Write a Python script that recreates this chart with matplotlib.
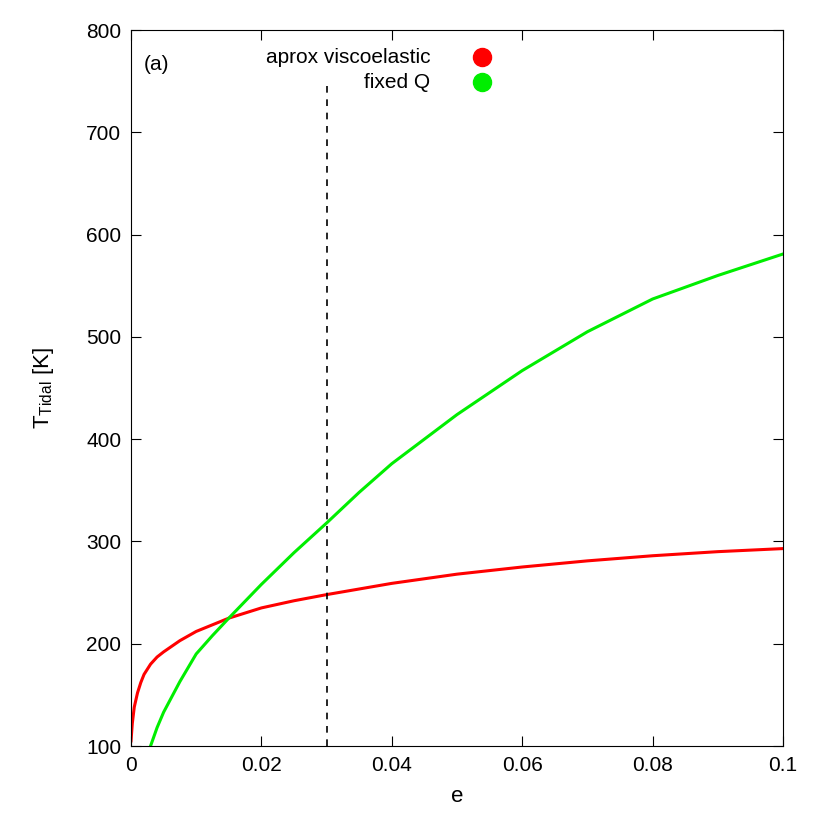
import matplotlib
matplotlib.use("Agg")
import numpy as np
import matplotlib.pyplot as plt

plt.rcParams['font.family'] = ['Liberation Sans', 'DejaVu Sans']

# values
e_red = [0.0, 0.0002, 0.0005, 0.001, 0.0015, 0.002, 0.003, 0.004, 0.005, 0.0075, 0.01,
         0.015, 0.02, 0.025, 0.03, 0.04, 0.05, 0.06, 0.07, 0.08, 0.09, 0.1]
t_red = [105, 122, 138, 152, 162, 170, 180, 187, 192, 203, 212,
         225, 235, 242, 248, 259, 268, 275, 281, 286, 290, 293]
e_green = [0.003, 0.004, 0.005, 0.0075, 0.01, 0.0125, 0.015, 0.02, 0.025, 0.03, 0.035,
           0.04, 0.05, 0.06, 0.07, 0.08, 0.09, 0.1]
t_green = [100, 118, 133, 163, 190, 208, 225, 258, 289, 318, 348,
           376, 424, 467, 505, 537, 560, 581]
e_cut = 0.03

fig = plt.figure(figsize=(8.3, 8.3), dpi=100)
ax = fig.add_axes([131/830, 84/830, 652/830, 716/830])

ax.plot(e_red, t_red, color='#ff0000', lw=2.2)
ax.plot(e_green, t_green, color='#00ee00', lw=2.2)
ax.plot([e_cut, e_cut], [100, 750], color='black', lw=1.2, ls=(0, (4, 4)))

ax.set_xlim(0, 0.1)
ax.set_ylim(100, 800)
ax.set_xticks([0, 0.02, 0.04, 0.06, 0.08, 0.1])
ax.set_xticklabels(['0', '0.02', '0.04', '0.06', '0.08', '0.1'])
ax.set_yticks(range(100, 801, 100))
ax.tick_params(direction='in', top=True, right=True, labelsize=15, length=7, pad=7)
ax.set_xlabel('e', fontsize=16, labelpad=8)
ax.set_ylabel(r'T$_{\mathregular{Tidal}}$ [K]', fontsize=16, labelpad=22)

ax.text(0.02, 0.965, '(a)', transform=ax.transAxes, fontsize=15, va='top')
ax.text(0.459, 0.962, 'aprox viscoelastic', transform=ax.transAxes, fontsize=15, va='center', ha='right')
ax.text(0.459, 0.927, 'fixed Q', transform=ax.transAxes, fontsize=15, va='center', ha='right')
ax.plot([0.539], [0.962], 'o', color='#ff0000', ms=13, transform=ax.transAxes)
ax.plot([0.539], [0.927], 'o', color='#00ee00', ms=13, transform=ax.transAxes)

fig.savefig('out.png', dpi=100)
